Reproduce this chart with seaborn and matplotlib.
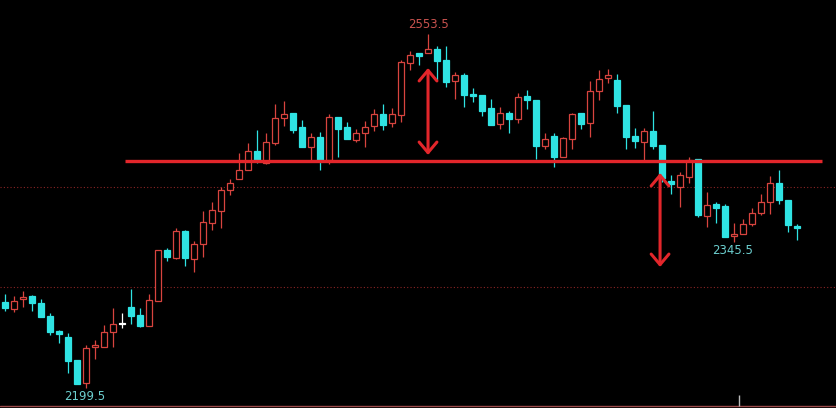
import numpy as np
import pandas as pd
import matplotlib
matplotlib.use("Agg")
from matplotlib import pyplot as plt
import seaborn as sns

# daily candles (open, high, low, close)
opens = [2285, 2278, 2288, 2291, 2284, 2271, 2256, 2250, 2227, 2204,
         2240, 2240, 2255, 2263, 2280, 2272, 2261, 2286, 2337, 2329,
         2356, 2328, 2343, 2364, 2376, 2397, 2408, 2417, 2436, 2424,
         2444, 2469, 2474, 2460, 2440, 2450, 2427, 2470, 2460, 2447,
         2454, 2461, 2473, 2464, 2472, 2524, 2534, 2534, 2538, 2527,
         2506, 2512, 2493, 2492, 2479, 2463, 2474, 2468, 2491, 2487,
         2441, 2451, 2430, 2448, 2474, 2464, 2496, 2509, 2507, 2482,
         2451, 2445, 2456, 2442, 2406, 2400, 2410, 2428, 2371, 2383,
         2381, 2351, 2353, 2363, 2374, 2385, 2404, 2387, 2361]
highs = [2293, 2291, 2296, 2292, 2288, 2274, 2257, 2254, 2227, 2242,
         2247, 2262, 2279, 2274, 2298, 2279, 2293, 2337, 2339, 2359,
         2357, 2346, 2376, 2385, 2400, 2408, 2434, 2444, 2457, 2454,
         2483, 2486, 2474, 2467, 2454, 2455, 2473, 2470, 2465, 2458,
         2466, 2478, 2483, 2479, 2527, 2536, 2534, 2553.5, 2541, 2541,
         2515, 2514, 2499, 2492, 2488, 2480, 2476, 2494, 2497, 2487,
         2454, 2454, 2450, 2474, 2474, 2506, 2517, 2518, 2513, 2482,
         2459, 2459, 2476, 2442, 2412, 2415, 2430, 2428, 2395, 2385,
         2383, 2364, 2368, 2379, 2393, 2411, 2417, 2387, 2363]
lows = [2276, 2275, 2280, 2276, 2270, 2252, 2244, 2214, 2203, 2199.5,
        2228, 2240, 2240, 2259, 2263, 2260, 2261, 2286, 2326, 2328,
        2321, 2315, 2330, 2357, 2359, 2392, 2408, 2417, 2424, 2423,
        2442, 2461, 2454, 2440, 2427, 2417, 2423, 2430, 2448, 2445,
        2440, 2456, 2457, 2460, 2465, 2517, 2522, 2534, 2507, 2500,
        2488, 2480, 2485, 2471, 2462, 2458, 2454, 2464, 2478, 2428,
        2438, 2420, 2430, 2438, 2458, 2450, 2487, 2504, 2474, 2438,
        2439, 2427, 2438, 2405, 2393, 2380, 2404, 2370, 2360, 2364,
        2350, 2345.5, 2353, 2361, 2372, 2373, 2383, 2355, 2347]
closes = [2279, 2286, 2290, 2284, 2270, 2255, 2253, 2226, 2203, 2239,
          2242, 2255, 2263, 2263, 2271, 2261, 2287, 2337, 2330, 2356,
          2329, 2343, 2365, 2377, 2397, 2404, 2417, 2436, 2427, 2445,
          2469, 2473, 2457, 2440, 2450, 2427, 2470, 2458, 2448, 2454,
          2460, 2473, 2462, 2473, 2525, 2532, 2531, 2538, 2526, 2505,
          2512, 2492, 2491, 2476, 2462, 2474, 2468, 2490, 2487, 2441,
          2448, 2430, 2449, 2473, 2463, 2496, 2508, 2512, 2481, 2450,
          2446, 2456, 2441, 2409, 2403, 2412, 2427, 2372, 2382, 2379,
          2350, 2353, 2363, 2374, 2385, 2404, 2387, 2362, 2359]

neckline = 2426
grid_levels = [2300, 2400]
marks = [("2553.5", 47.0, 2562), ("2199.5", 8.9, 2191), ("2345.5", 80.8, 2336)]

UP = "#d8443f"
DOWN = "#2fe3e3"
LINE_RED = "#e3262b"

df = pd.DataFrame({"open": opens, "high": highs, "low": lows, "close": closes})
df["i"] = np.arange(len(df))

sns.set_theme(style="dark", rc={"axes.facecolor": "black", "figure.facecolor": "black"})

fig = plt.figure(figsize=(8.37, 4.08), dpi=100)
ax = fig.add_axes([0, 0, 1, 1])
ax.set_facecolor("black")

# dotted grid and bottom border
for lv in grid_levels:
    ax.axhline(lv, color="#8a2424", lw=0.8, ls=(0, (1, 2)), zorder=1)
ax.axhline(2181.5, color="#9a4a4a", lw=1.0, zorder=1)
ax.vlines(81.55, 2181.5, 2192, color="#bbbbbb", lw=1.0, zorder=1)

# candles
for _, r in df.iterrows():
    if r["close"] > r["open"]:
        col, face = UP, "black"
    elif r["close"] < r["open"]:
        col, face = DOWN, DOWN
    else:
        col, face = "white", "white"
    ax.vlines(r["i"], r["low"], r["high"], color=col, lw=0.9, zorder=2)
    lo = min(r["open"], r["close"])
    h = max(abs(r["close"] - r["open"]), 0.6)
    ax.bar(r["i"], h, bottom=lo, width=0.74, color=face, edgecolor=col,
           linewidth=0.9, zorder=3)

# neckline
ax.hlines(neckline, 13.33, 90.8, color=LINE_RED, lw=2.4, zorder=4)

# measuring arrows
arrow = dict(arrowstyle="<->,head_length=0.38,head_width=0.32", color=LINE_RED,
             lw=2.2, shrinkA=0, shrinkB=0, mutation_scale=20)
ax.annotate("", xy=(47.0, 2519), xytext=(47.0, 2432), arrowprops=arrow, zorder=5)
ax.annotate("", xy=(72.78, 2414), xytext=(72.78, 2320), arrowprops=arrow, zorder=5)

# price labels
for txt, x, y in marks:
    c = "#c8524e" if txt == "2553.5" else "#6ccfcf"
    ax.text(x, y, txt, color=c, fontsize=8.5, ha="center", va="center", zorder=6)

ax.set_xlim(-0.556, 92.44)
ax.set_ylim(2179, 2587)
ax.set_xticks([])
ax.set_yticks([])
for s in ax.spines.values():
    s.set_visible(False)

fig.savefig("out.png", dpi=100, facecolor="black")
